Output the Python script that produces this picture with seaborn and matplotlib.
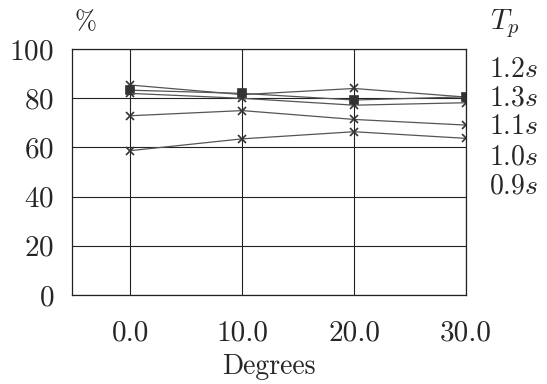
import matplotlib
matplotlib.use("Agg")
import matplotlib.pyplot as plt
import seaborn as sns
import pandas as pd

degrees = [0.0, 10.0, 20.0, 30.0]
series_names = ["1.2s", "1.3s", "1.1s", "1.0s", "0.9s"]
v_12 = [85.4, 81.5, 84.0, 80.5]
v_13 = [83.3, 82.0, 79.3, 80.6]
v_11 = [82.0, 80.0, 77.2, 78.2]
v_10 = [72.9, 75.0, 71.4, 69.1]
v_09 = [58.7, 63.5, 66.4, 63.7]
values = [v_12, v_13, v_11, v_10, v_09]
y_ticks = [0, 20, 40, 60, 80, 100]
x_tick_labels = ["0.0", "10.0", "20.0", "30.0"]

rows = []
for name, vals in zip(series_names, values):
    for d, v in zip(degrees, vals):
        rows.append({"Degrees": d, "pct": v, "Tp": name})
df = pd.DataFrame(rows)

sns.set_style("white")
plt.rcParams["font.family"] = ["cmr10", "DejaVu Serif"]
plt.rcParams["mathtext.fontset"] = "cm"
plt.rcParams["axes.formatter.use_mathtext"] = True

fig = plt.figure(figsize=(5.47, 3.84), dpi=100)
ax = fig.add_axes([0.1316, 0.232, 0.7204, 0.640])

markers = {"1.2s": "x", "1.3s": "s", "1.1s": "x", "1.0s": "x", "0.9s": "x"}
for name in series_names:
    sub = df[df["Tp"] == name]
    sns.lineplot(data=sub, x="Degrees", y="pct", color="#555555",
                 marker=markers[name], markersize=6, linewidth=0.9,
                 markeredgewidth=1.2, markeredgecolor="#333333",
                 markerfacecolor="#333333", legend=False, ax=ax)

ax.set_xlim(-5.2, 30)
ax.set_ylim(0, 100)
ax.set_xticks(degrees)
ax.set_xticklabels(x_tick_labels)
ax.set_yticks(y_ticks)
ax.grid(True, color="#222222", linewidth=0.8)
for s in ax.spines.values():
    s.set_color("#222222")
    s.set_linewidth(0.9)
ax.tick_params(axis="both", length=0, labelsize=21)
ax.tick_params(axis="x", pad=18)
ax.tick_params(axis="y", pad=13)
ax.set_xlabel("Degrees", fontsize=20, labelpad=5)
ax.set_ylabel("")

fig.text(75 / 547, 1 - 22 / 384, "%", fontsize=19, ha="left", va="center")
fig.text(490 / 547, 1 - 24 / 384, r"$T_p$", fontsize=21, ha="left", va="center")
label_y = [70, 98, 127, 157, 186]
for name, yy in zip(series_names, label_y):
    fig.text(489 / 547, 1 - yy / 384, name[:-1] + r"$s$", fontsize=20,
             ha="left", va="center")

fig.savefig("out.png", dpi=100)
